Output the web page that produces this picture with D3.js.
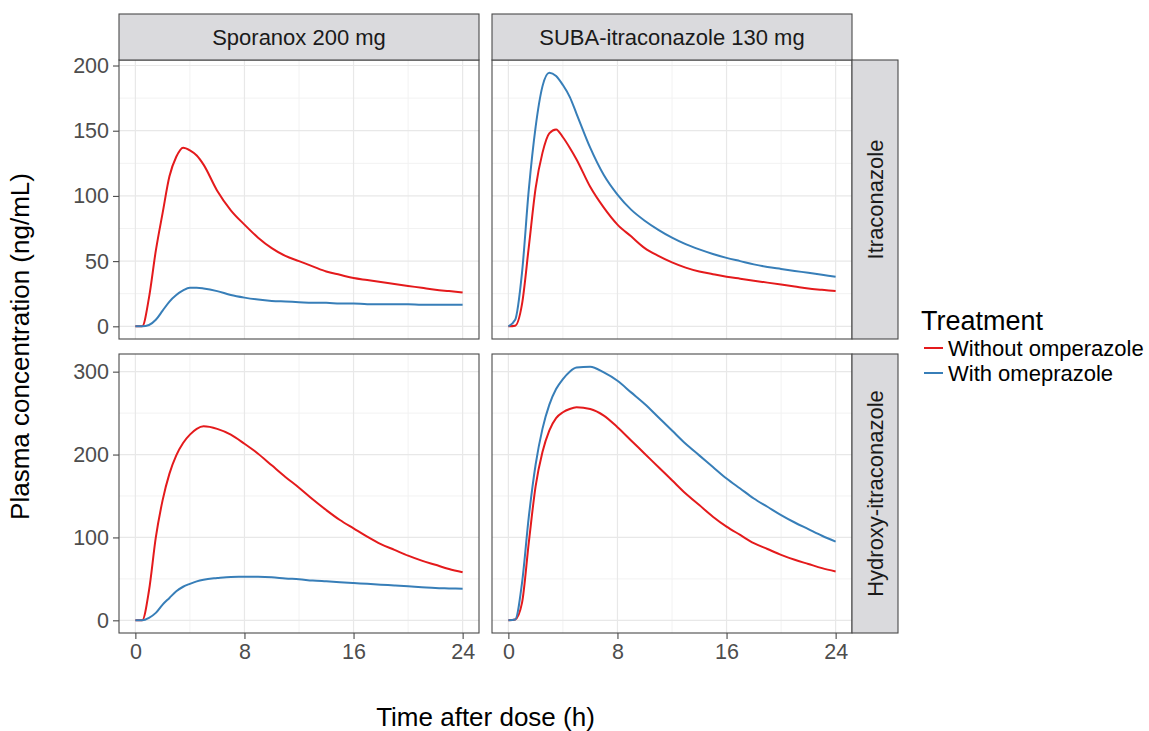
<!DOCTYPE html>
<html>
<head>
<meta charset="utf-8">
<script src="https://cdn.jsdelivr.net/npm/d3@7"></script>
<style>
  body { margin: 0; background: #fff; }
  svg { font-family: "Liberation Sans", Arial, sans-serif; }
</style>
</head>
<body>
<div id="chart"></div>
<script>
// facet labels
const drugs = ["Sporanox 200 mg", "SUBA-itraconazole 130 mg"];
const analytes = ["Itraconazole", "Hydroxy-itraconazole"];
const treatments = ["Without omperazole", "With omeprazole"];
const colors = ["#e41a1c", "#377eb8"];

// time after dose (h)
const times = [0, 0.5, 1, 1.5, 2, 2.5, 3, 3.5, 4, 4.5, 5, 6, 7, 8, 9, 10, 11, 12, 13, 14, 15, 16, 17, 18, 19, 20, 21, 22, 23, 24];

// Sporanox, itraconazole
const sporItraWithout = [0, 0, 22, 58, 87, 115, 130, 137, 135, 131, 124, 104, 89, 78, 68, 60, 54, 50, 46, 42, 39.5, 37, 35.5, 34, 32.5, 31, 29.5, 28, 27, 26];
const sporItraWith = [0, 0, 1, 5, 12, 19, 24, 27.5, 29.5, 29.5, 29, 27, 24, 22, 20.5, 19.5, 19, 18.5, 18, 18, 17.5, 17.5, 17, 17, 17, 17, 16.5, 16.5, 16.5, 16.5];
// SUBA, itraconazole
const subaItraWithout = [0, 0.5, 17, 61, 106, 133, 148, 151, 145, 137, 128, 107, 91, 78, 69, 60, 54, 49, 45, 42, 40, 38, 36.5, 35, 33.5, 32, 30.5, 29, 28, 27];
const subaItraWith = [0, 5, 41, 105, 153, 184, 194.5, 192, 185, 176, 163, 137, 116, 101, 89.5, 81, 74, 68, 63, 59, 55.5, 52.5, 50, 47.5, 45.5, 44, 42.5, 41, 39.5, 38];
// Sporanox, hydroxy-itraconazole
const sporOhWithout = [0, 0, 36, 100, 145, 177, 199, 214, 224, 231, 234, 231, 224, 213, 201, 187, 173, 160, 146, 133, 121, 111, 101, 92, 85, 78, 72, 67, 62, 58];
const sporOhWith = [0, 0, 3, 9, 19, 27, 35, 40.5, 44, 47, 49, 51, 52.4, 52.5, 52.5, 52, 50.5, 49.5, 48, 47, 46, 45, 44, 43, 42, 41, 40, 39, 38.5, 38];
// SUBA, hydroxy-itraconazole
const subaOhWithout = [0, 1, 21, 94, 162, 203, 229, 244, 251, 255, 257, 255, 247, 233, 217, 201, 185, 169, 153, 139, 125, 113, 103, 93, 86, 79, 73, 68, 63, 59];
const subaOhWith = [0, 1, 45, 125, 188, 231, 260, 279, 291, 300, 305, 306, 299, 289, 275, 261, 245, 229, 213, 199, 185, 171, 159, 147, 137, 127, 118, 110, 102, 95];

// ticks
const xTicks = [0, 8, 16, 24];
const xMinor = [4, 12, 20];
const yTicksItra = [0, 50, 100, 150, 200];
const yMinorItra = [25, 75, 125, 175];
const yTicksOh = [0, 100, 200, 300];
const yMinorOh = [50, 150, 250];

const seriesGrid = [
  [[sporItraWithout, sporItraWith], [subaItraWithout, subaItraWith]],
  [[sporOhWithout, sporOhWith], [subaOhWithout, subaOhWith]]
];
const yTicks = [yTicksItra, yTicksOh];
const yMinor = [yMinorItra, yMinorOh];

const width = 1149, height = 731;
const colX = [[119, 479], [492, 852]];
const rowY = [[60, 339], [354, 633]];
const stripTop = 14, stripRight = 898;

const svg = d3.select("#chart").append("svg")
    .attr("width", width)
    .attr("height", height);

const textCol = "#4d4d4d", borderCol = "#4a4a4a", stripFill = "#dadadd";

// shared x scale domain (with ggplot's 5% expansion)
const xExt = d3.extent(times);
const xPad = (xExt[1] - xExt[0]) * 0.05;

// free y per row
const yDomains = seriesGrid.map(row => {
  const mx = d3.max(row.flat(2));
  return [-mx * 0.05, mx * 1.05];
});

for (let r = 0; r < 2; r++) {
  const y = d3.scaleLinear().domain(yDomains[r]).range([rowY[r][1], rowY[r][0]]);
  for (let c = 0; c < 2; c++) {
    const x = d3.scaleLinear().domain([xExt[0] - xPad, xExt[1] + xPad]).range(colX[c]);
    const g = svg.append("g");

    g.append("rect")
        .attr("x", colX[c][0]).attr("y", rowY[r][0])
        .attr("width", colX[c][1] - colX[c][0]).attr("height", rowY[r][1] - rowY[r][0])
        .attr("fill", "#fff");

    // grid
    g.selectAll(".vminor").data(xMinor).join("line")
        .attr("x1", d => x(d)).attr("x2", d => x(d))
        .attr("y1", rowY[r][0]).attr("y2", rowY[r][1])
        .attr("stroke", "#f2f2f2").attr("stroke-width", 1);
    g.selectAll(".hminor").data(yMinor[r]).join("line")
        .attr("y1", d => y(d)).attr("y2", d => y(d))
        .attr("x1", colX[c][0]).attr("x2", colX[c][1])
        .attr("stroke", "#f2f2f2").attr("stroke-width", 1);
    g.selectAll(".vmajor").data(xTicks).join("line")
        .attr("x1", d => x(d)).attr("x2", d => x(d))
        .attr("y1", rowY[r][0]).attr("y2", rowY[r][1])
        .attr("stroke", "#e8e8e8").attr("stroke-width", 1.2);
    g.selectAll(".hmajor").data(yTicks[r]).join("line")
        .attr("y1", d => y(d)).attr("y2", d => y(d))
        .attr("x1", colX[c][0]).attr("x2", colX[c][1])
        .attr("stroke", "#e8e8e8").attr("stroke-width", 1.2);

    // curves
    const line = d3.line()
        .x((d, i) => x(times[i]))
        .y(d => y(d))
        .curve(d3.curveMonotoneX);
    seriesGrid[r][c].forEach((vals, k) => {
      g.append("path")
          .attr("d", line(vals))
          .attr("fill", "none")
          .attr("stroke", colors[k])
          .attr("stroke-width", 2);
    });

    g.append("rect")
        .attr("x", colX[c][0]).attr("y", rowY[r][0])
        .attr("width", colX[c][1] - colX[c][0]).attr("height", rowY[r][1] - rowY[r][0])
        .attr("fill", "none").attr("stroke", borderCol).attr("stroke-width", 1.1);

    // y axis on first column
    if (c === 0) {
      const ya = svg.append("g")
          .attr("transform", `translate(${colX[c][0]},0)`)
          .call(d3.axisLeft(y).tickValues(yTicks[r]).tickSize(6).tickPadding(4));
      ya.select(".domain").remove();
      ya.selectAll(".tick line").attr("stroke", borderCol).attr("stroke-width", 1.1);
      ya.selectAll(".tick text").attr("fill", textCol)
          .style("font-size", "21.5px").style("font-family", "Liberation Sans, Arial, sans-serif");
    }
    // x axis on bottom row
    if (r === 1) {
      const xa = svg.append("g")
          .attr("transform", `translate(0,${rowY[r][1]})`)
          .call(d3.axisBottom(x).tickValues(xTicks).tickSize(6).tickPadding(5));
      xa.select(".domain").remove();
      xa.selectAll(".tick line").attr("stroke", borderCol).attr("stroke-width", 1.1);
      xa.selectAll(".tick text").attr("fill", textCol)
          .style("font-size", "21.5px").style("font-family", "Liberation Sans, Arial, sans-serif");
    }
  }
}

// top strips
drugs.forEach((d, c) => {
  svg.append("rect")
      .attr("x", colX[c][0]).attr("y", stripTop)
      .attr("width", colX[c][1] - colX[c][0]).attr("height", rowY[0][0] - stripTop)
      .attr("fill", stripFill).attr("stroke", borderCol).attr("stroke-width", 1.1);
  svg.append("text")
      .attr("x", (colX[c][0] + colX[c][1]) / 2)
      .attr("y", (stripTop + rowY[0][0]) / 2)
      .attr("dy", "0.35em")
      .attr("text-anchor", "middle")
      .attr("fill", "#1a1a1a")
      .style("font-size", "22px")
      .text(d);
});

// right strips
analytes.forEach((a, r) => {
  svg.append("rect")
      .attr("x", colX[1][1]).attr("y", rowY[r][0])
      .attr("width", stripRight - colX[1][1]).attr("height", rowY[r][1] - rowY[r][0])
      .attr("fill", stripFill).attr("stroke", borderCol).attr("stroke-width", 1.1);
  const cx = (colX[1][1] + stripRight) / 2, cy = (rowY[r][0] + rowY[r][1]) / 2;
  svg.append("text")
      .attr("transform", `translate(${cx},${cy}) rotate(-90)`)
      .attr("dy", "0.35em")
      .attr("text-anchor", "middle")
      .attr("fill", "#1a1a1a")
      .style("font-size", "22px")
      .text(a);
});

// axis titles
svg.append("text")
    .attr("x", (colX[0][0] + colX[1][1]) / 2)
    .attr("y", 726)
    .attr("text-anchor", "middle")
    .attr("fill", "#000")
    .style("font-size", "26px")
    .text("Time after dose (h)");
svg.append("text")
    .attr("transform", `translate(29,${(rowY[0][0] + rowY[1][1]) / 2}) rotate(-90)`)
    .attr("text-anchor", "middle")
    .attr("fill", "#000")
    .style("font-size", "26px")
    .text("Plasma concentration (ng/mL)");

// legend
const legend = svg.append("g").attr("transform", "translate(921,0)");
legend.append("text")
    .attr("x", 0).attr("y", 330)
    .attr("fill", "#000")
    .style("font-size", "27px")
    .text("Treatment");
treatments.forEach((t, i) => {
  const ly = 348 + i * 25;
  legend.append("line")
      .attr("x1", 3).attr("x2", 22)
      .attr("y1", ly).attr("y2", ly)
      .attr("stroke", colors[i]).attr("stroke-width", 2);
  legend.append("text")
      .attr("x", 27).attr("y", ly)
      .attr("dy", "0.35em")
      .attr("fill", "#000")
      .style("font-size", "22px")
      .text(t);
});
</script>
</body>
</html>
